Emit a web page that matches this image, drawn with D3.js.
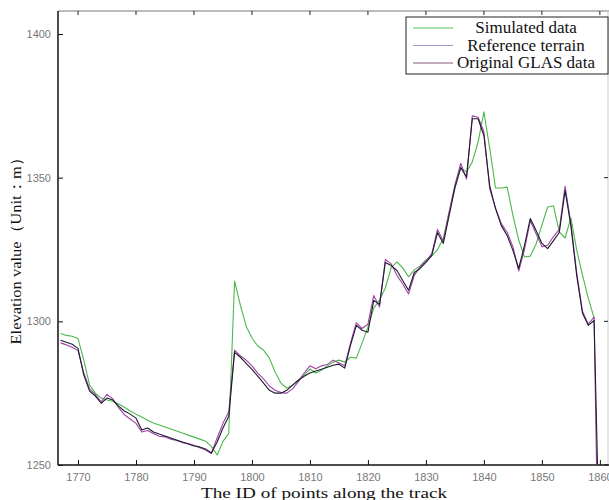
<!DOCTYPE html>
<html><head><meta charset="utf-8">
<script src="https://cdn.jsdelivr.net/npm/d3@7"></script>
<style>body{margin:0;background:#fff}</style>
</head><body>
<svg id="c" width="609" height="500"></svg>
<script>
const startId = 1767;
const simulated = [1295.8,1295.1,1294.8,1294.0,1286.5,1277.8,1275.0,1273.3,1272.6,1272.2,1271.2,1270.1,1268.8,1267.7,1266.7,1265.6,1264.6,1263.9,1263.2,1262.5,1261.8,1261.1,1260.4,1259.7,1259.0,1258.3,1256.5,1253.5,1258.2,1261.0,1314.0,1305.6,1298.3,1294.2,1291.4,1290.0,1287.2,1282.3,1278.5,1276.8,1277.8,1279.5,1281.3,1283.4,1282.0,1283.0,1284.5,1285.8,1286.5,1285.8,1287.5,1287.2,1292.5,1298.0,1304.6,1307.4,1311.6,1318.6,1320.7,1318.6,1315.5,1317.9,1319.3,1321.4,1322.8,1324.9,1329.0,1338.0,1346.4,1353.4,1352.0,1355.5,1362.4,1372.9,1360.3,1346.4,1346.4,1346.7,1337.0,1328.3,1322.4,1322.7,1326.9,1333.5,1339.8,1340.2,1331.1,1329.0,1336.0,1324.9,1316.1,1308.1,1301.2];
const reference = [1293.4,1292.7,1292.0,1290.6,1281.3,1275.7,1274.0,1271.5,1273.3,1272.6,1270.5,1268.8,1267.7,1266.3,1262.2,1262.9,1261.5,1260.8,1260.1,1259.4,1258.7,1258.0,1257.3,1256.6,1256.3,1255.6,1254.2,1258.0,1262.9,1267.0,1289.2,1287.5,1285.4,1283.3,1280.9,1278.5,1276.0,1275.0,1275.0,1276.0,1277.8,1279.5,1280.9,1282.0,1282.7,1283.3,1284.0,1284.7,1285.1,1283.7,1291.7,1298.6,1296.9,1296.2,1307.3,1305.9,1320.5,1319.4,1317.7,1314.2,1310.8,1317.0,1318.4,1320.5,1322.9,1330.9,1327.1,1336.8,1346.5,1353.5,1350.3,1370.5,1370.5,1364.6,1347.2,1339.2,1333.3,1329.9,1324.7,1318.4,1326.4,1335.8,1331.6,1327.1,1325.3,1328.1,1330.9,1345.5,1333.3,1316.0,1302.8,1298.6,1300.3,1215.0];
const glas = [1292.5,1291.8,1291.0,1289.8,1282.0,1276.5,1274.5,1272.0,1274.6,1273.0,1270.0,1267.5,1266.0,1264.5,1261.5,1262.0,1261.0,1260.0,1259.8,1259.0,1258.5,1257.8,1257.5,1256.9,1256.0,1255.2,1254.0,1259.5,1264.5,1268.5,1290.0,1288.0,1286.5,1284.5,1282.0,1280.0,1277.5,1276.0,1275.2,1275.0,1276.5,1279.0,1282.0,1284.5,1283.5,1284.5,1285.0,1286.5,1285.5,1284.5,1292.5,1299.5,1297.5,1299.0,1309.0,1305.0,1321.5,1320.0,1316.0,1313.0,1309.5,1316.0,1319.0,1321.0,1323.5,1332.0,1328.0,1338.0,1347.5,1355.0,1349.5,1371.5,1371.0,1366.0,1346.0,1339.5,1334.0,1331.0,1326.0,1317.5,1325.0,1335.0,1330.5,1326.0,1326.5,1329.5,1332.0,1347.0,1334.0,1317.0,1303.5,1299.0,1301.5,1180.0];
const xTicks = [1770,1780,1790,1800,1810,1820,1830,1840,1850,1860];
const yTicks = [1250,1300,1350,1400];
const seriesNames = ["Simulated data","Reference terrain","Original GLAS data"];
const seriesColors = ["#4cb84c","#1c1c2c","#a040a8"];
const legendColors = ["#55bb55","#9a9ac8","#8a5878"];

const svg = d3.select("#c");
const L=58, R=608, T=11, B=465;
const x = d3.scaleLinear().domain([1766.55,1861.4]).range([L,R]);
const y = d3.scaleLinear().domain([1250,1408]).range([B,T]);

svg.append("defs").append("clipPath").attr("id","clip")
  .append("rect").attr("x",L).attr("y",T).attr("width",R-L).attr("height",B-T);

svg.append("line").attr("x1",L).attr("x2",609).attr("y1",T).attr("y2",T).attr("stroke","#bbb").attr("stroke-width",2);
svg.append("line").attr("x1",R).attr("x2",R).attr("y1",T).attr("y2",B).attr("stroke","#ccc").attr("stroke-width",1);
xTicks.forEach(t=>{
  svg.append("line").attr("x1",x(t)).attr("x2",x(t)).attr("y1",T).attr("y2",T+4).attr("stroke","#222");
});
yTicks.forEach(t=>{
  svg.append("line").attr("x1",R).attr("x2",R-4).attr("y1",y(t)).attr("y2",y(t)).attr("stroke","#222");
});

const xAxis = d3.axisBottom(x).tickValues(xTicks).tickFormat(d3.format("d")).tickSizeInner(-5).tickSizeOuter(0).tickPadding(8);
const gx = svg.append("g").attr("transform",`translate(0,${B})`).call(xAxis);
gx.select(".domain").attr("stroke","#111").attr("stroke-width",1.5).attr("d",`M${L},0H609`);
gx.selectAll(".tick line").attr("stroke","#111");
gx.selectAll("text").attr("fill","#777").attr("font-family","Liberation Sans, Arial, sans-serif").attr("font-size",11);

const yAxis = d3.axisLeft(y).tickValues(yTicks).tickFormat(d3.format("d")).tickSizeInner(-5).tickSizeOuter(0).tickPadding(7);
const gy = svg.append("g").attr("transform",`translate(${L},0)`).call(yAxis);
gy.select(".domain").attr("stroke","#111").attr("stroke-width",1.5).attr("d",`M0,${T}V${B}`);
gy.selectAll(".tick line").attr("stroke","#111");
gy.selectAll("text").attr("fill","#777").attr("font-family","Liberation Sans, Arial, sans-serif").attr("font-size",11);

const line = d3.line().x((d,i)=>x(startId+i)).y(d=>y(d));
const g = svg.append("g").attr("clip-path","url(#clip)");
[[simulated,0],[glas,2],[reference,1]].forEach(([s,k])=>{
  g.append("path").datum(s).attr("d",line).attr("fill","none")
   .attr("stroke",seriesColors[k]).attr("stroke-width",1.1).attr("stroke-linejoin","round");
});

const lg = svg.append("g");
lg.append("rect").attr("x",406).attr("y",17).attr("width",202).attr("height",57)
  .attr("fill","#fff").attr("stroke","#222").attr("stroke-width",1);
seriesNames.forEach((n,k)=>{
  const yy = 28 + k*17.5;
  lg.append("line").attr("x1",413).attr("x2",453).attr("y1",yy).attr("y2",yy)
    .attr("stroke",legendColors[k]).attr("stroke-width",1.2);
  lg.append("text").attr("x",526).attr("y",yy+5).attr("text-anchor","middle")
    .attr("font-family","Liberation Serif, Times New Roman, serif").attr("font-size",17)
    .attr("fill","#111").text(n);
});

svg.append("text").attr("x",324).attr("y",498).attr("text-anchor","middle")
  .attr("font-family","Liberation Serif, Times New Roman, serif").attr("font-size",15).attr("fill","#111")
  .attr("textLength",246).attr("lengthAdjust","spacingAndGlyphs")
  .text("The ID of points along the track");
svg.append("text").attr("transform","translate(21,247) rotate(-90)").attr("text-anchor","middle")
  .attr("font-family","Liberation Serif, Times New Roman, serif").attr("font-size",15).attr("fill","#111")
  .attr("textLength",195).attr("lengthAdjust","spacingAndGlyphs")
  .text("Elevation value（Unit：m）");
</script>
</body></html>
